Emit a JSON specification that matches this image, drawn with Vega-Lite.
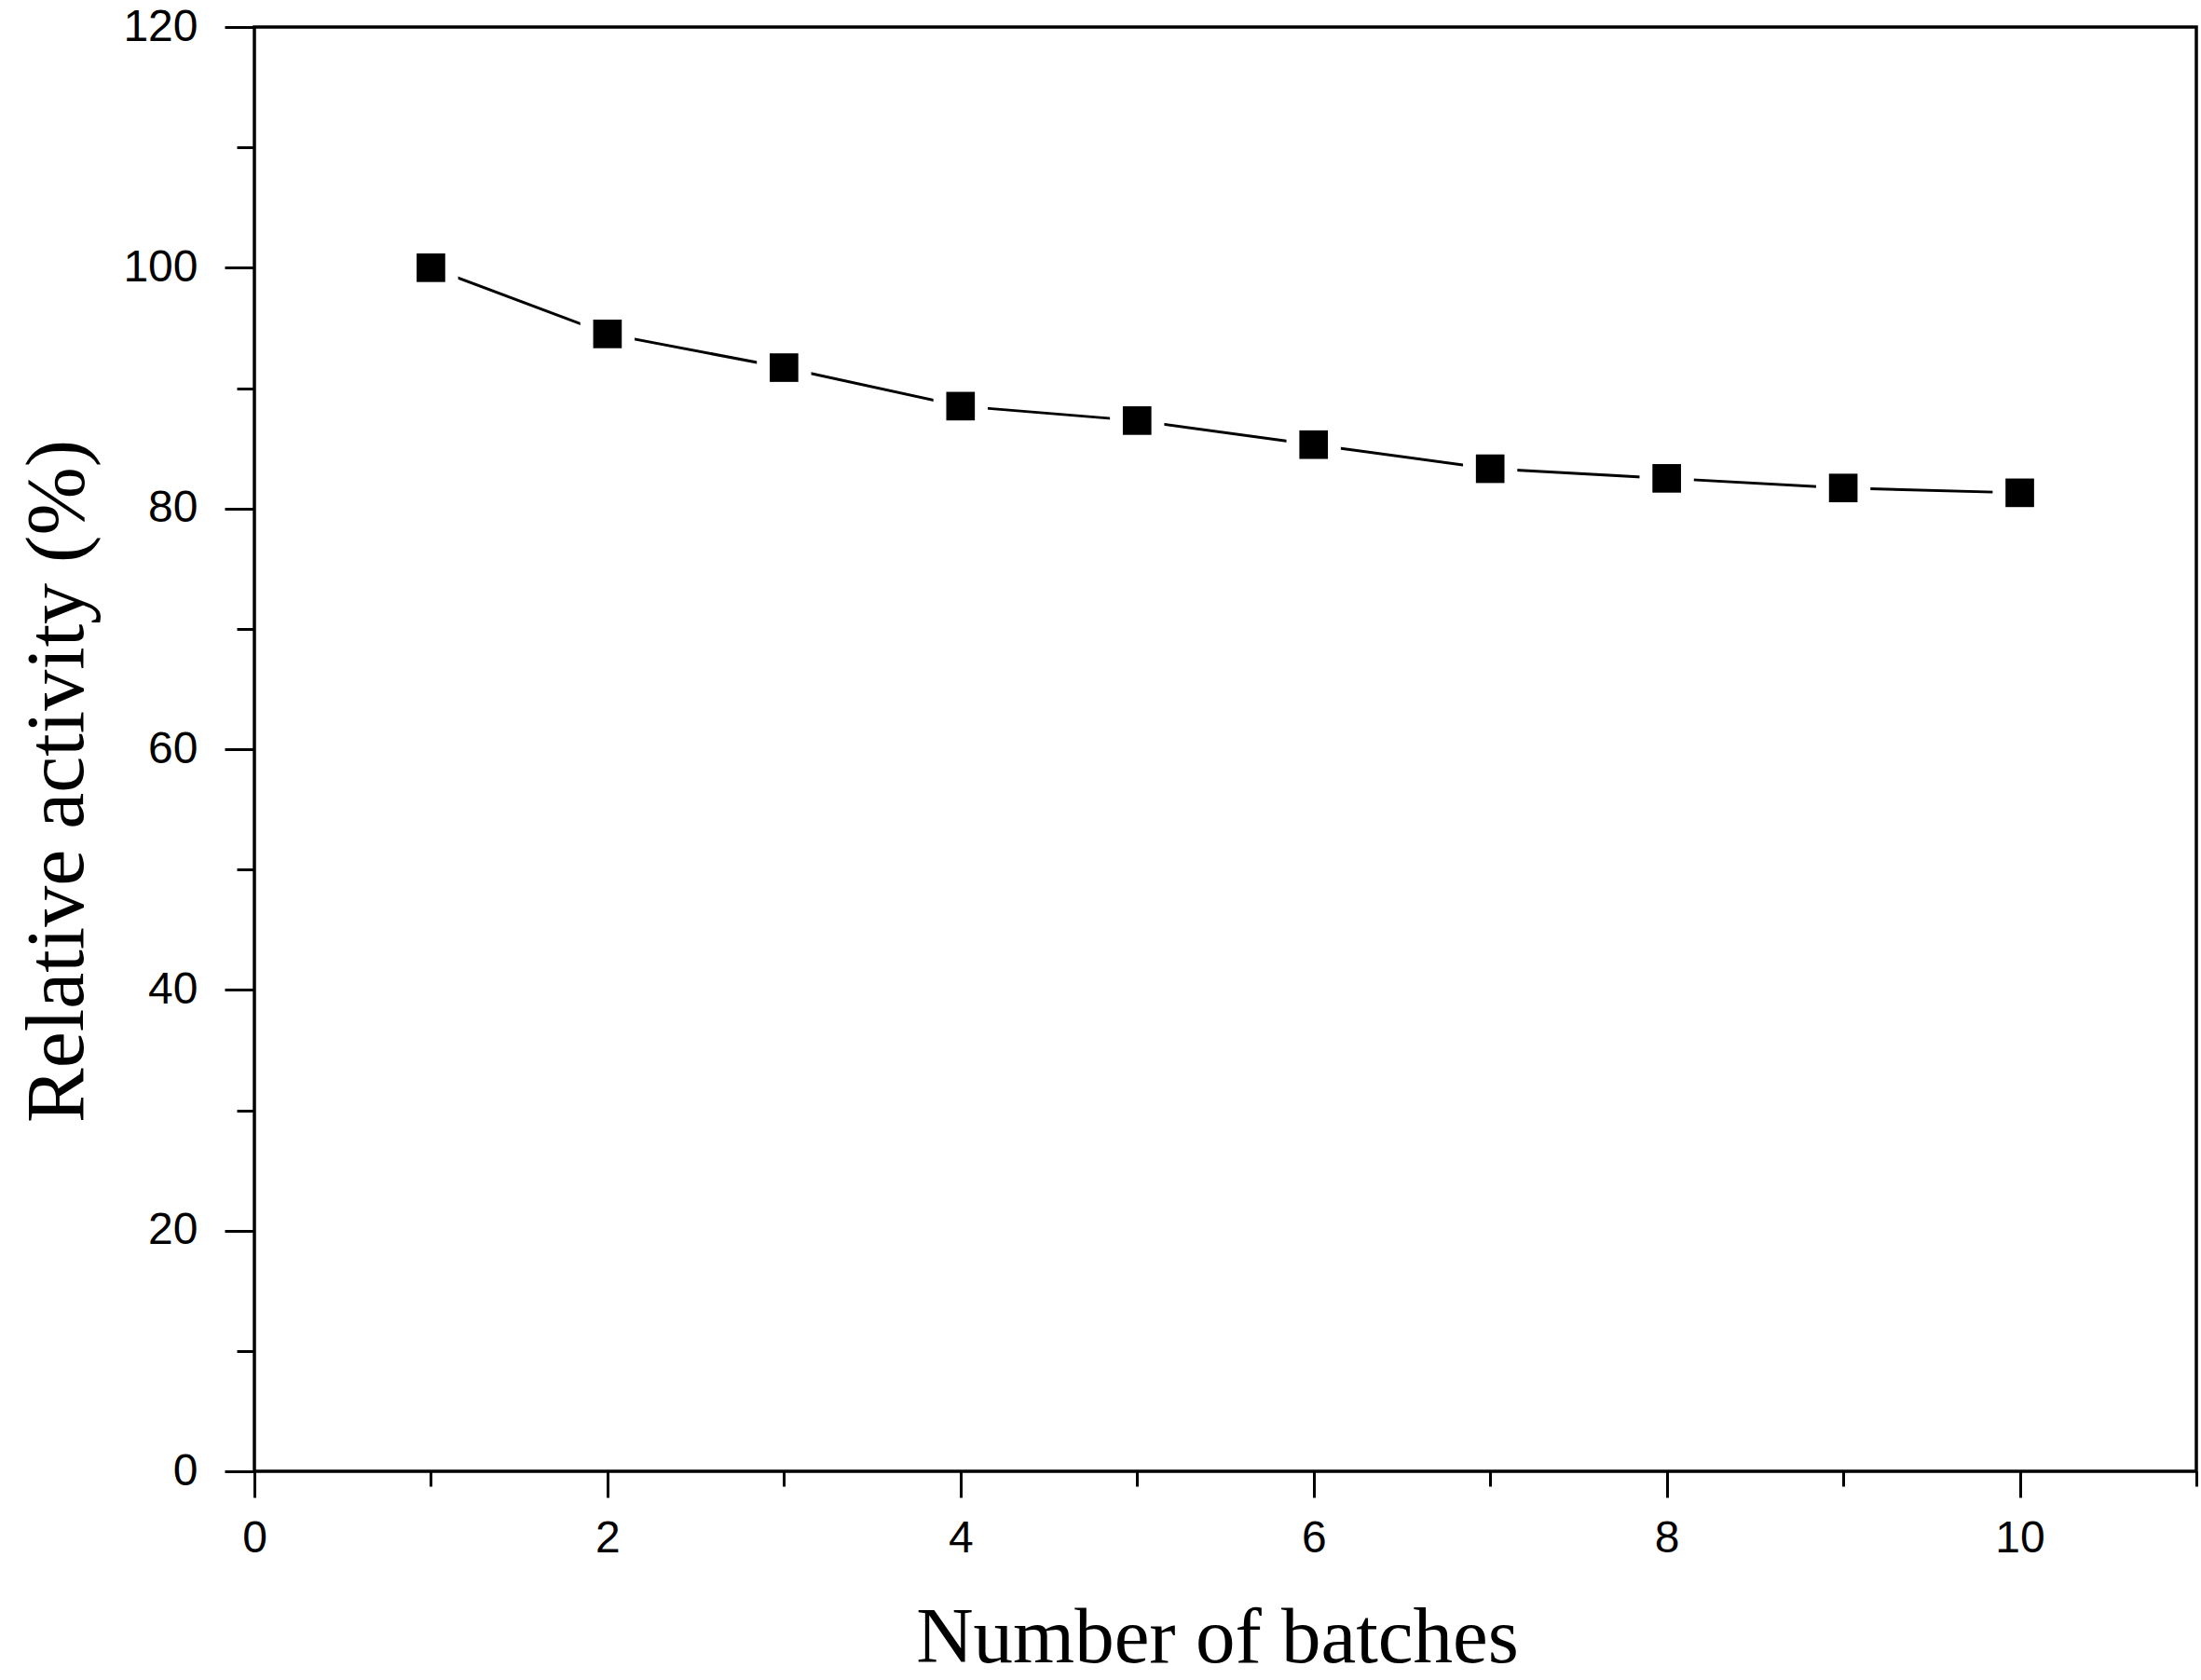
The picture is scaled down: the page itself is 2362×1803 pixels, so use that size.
{
  "$schema": "https://vega.github.io/schema/vega-lite/v6.json",
  "description": "Relative activity versus number of batches (reuse stability)",
  "width": 2084,
  "height": 1550,
  "autosize": "none",
  "padding": {"left": 273, "top": 29, "right": 5, "bottom": 224},
  "background": "white",
  "data": {
    "values": [
      {"batch": 1, "activity": 100.0},
      {"batch": 2, "activity": 94.5},
      {"batch": 3, "activity": 91.7},
      {"batch": 4, "activity": 88.5},
      {"batch": 5, "activity": 87.3},
      {"batch": 6, "activity": 85.3},
      {"batch": 7, "activity": 83.3},
      {"batch": 8, "activity": 82.5},
      {"batch": 9, "activity": 81.7},
      {"batch": 10, "activity": 81.3}
    ]
  },
  "layer": [
    {
      "mark": {"type": "line", "color": "black", "strokeWidth": 3},
      "encoding": {
        "x": {
          "field": "batch",
          "type": "quantitative",
          "scale": {"domain": [0, 11], "nice": false, "zero": false},
          "axis": {
            "orient": "bottom",
            "values": [0, 2, 4, 6, 8, 10],
            "tickSize": 28,
            "labelPadding": 20,
            "title": "Number of batches",
            "titleX": 1033,
            "titleY": 204,
            "titleBaseline": "alphabetic"
          }
        },
        "y": {
          "field": "activity",
          "type": "quantitative",
          "scale": {"domain": [0, 120], "nice": false},
          "axis": {
            "orient": "left",
            "values": [0, 20, 40, 60, 80, 100, 120],
            "tickSize": 32,
            "labelPadding": 29,
            "title": "Relative activity (%)",
            "titleFontSize": 88,
            "titleX": -185,
            "titleY": 809,
            "titleAngle": 270,
            "titleBaseline": "alphabetic"
          }
        }
      }
    },
    {
      "mark": {"type": "point", "shape": "square", "filled": true, "color": "white", "size": 3400, "opacity": 1},
      "encoding": {
        "x": {
          "field": "batch",
          "type": "quantitative",
          "axis": {
            "orient": "bottom",
            "values": [1, 3, 5, 7, 9, 11],
            "tickSize": 16,
            "labels": false,
            "title": null
          }
        },
        "y": {
          "field": "activity",
          "type": "quantitative",
          "axis": {
            "orient": "left",
            "values": [10, 30, 50, 70, 90, 110],
            "tickSize": 19,
            "labels": false,
            "title": null
          }
        }
      }
    },
    {
      "mark": {"type": "point", "shape": "square", "filled": true, "color": "black", "size": 940, "opacity": 1},
      "encoding": {
        "x": {"field": "batch", "type": "quantitative", "axis": null},
        "y": {"field": "activity", "type": "quantitative", "axis": null}
      }
    }
  ],
  "resolve": {"axis": {"x": "independent", "y": "independent"}},
  "config": {
    "view": {"stroke": "black", "strokeWidth": 3.5},
    "axis": {
      "grid": false,
      "domain": false,
      "tickColor": "black",
      "tickWidth": 3,
      "labelColor": "black",
      "labelFont": "Liberation Sans",
      "labelFontSize": 48,
      "labelFlush": false,
      "labelOverlap": false,
      "titleColor": "black",
      "titleFont": "Liberation Serif",
      "titleFontSize": 85,
      "titleFontWeight": "normal"
    }
  }
}
